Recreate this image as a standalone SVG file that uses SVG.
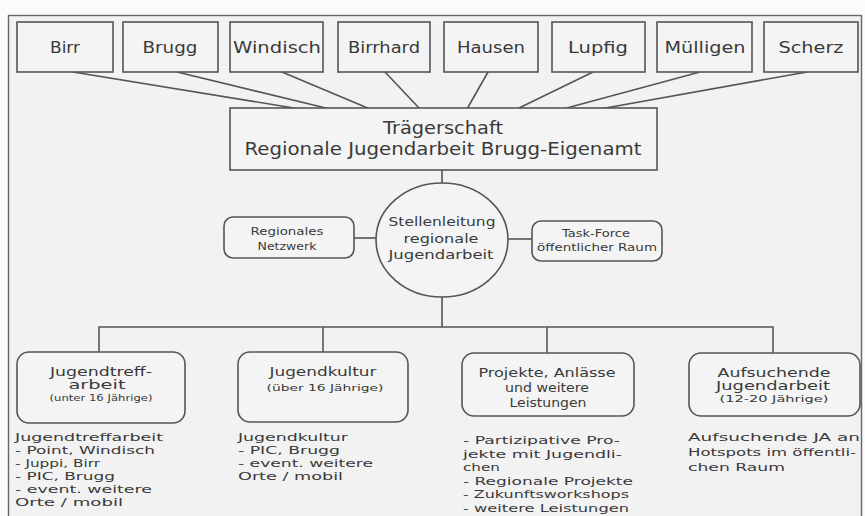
<svg xmlns="http://www.w3.org/2000/svg" width="865" height="516" viewBox="0 0 865 516">
<style>
text{font-family:"DejaVu Sans","Liberation Sans",sans-serif;fill:#3a3a3a;text-anchor:middle;}
.box{fill:#f4f4f4;stroke:#555;stroke-width:1.6;}
.ln{stroke:#555;stroke-width:1.6;fill:none;}
.top{font-size:15px;}
.t18{font-size:18px;}
.t13{font-size:13px;}
.t12{font-size:12px;}
.t10{font-size:10px;}
.t9{font-size:8.5px;}
.lst{font-size:11px;text-anchor:start;}
</style>
<rect x="0" y="0" width="865" height="516" fill="#fbfbfb"/>
<rect x="8.5" y="15.5" width="853" height="520" fill="#f2f2f2" stroke="#666" stroke-width="1.4"/>

<g id="connectors" class="ln">
<line x1="73" y1="72" x2="300" y2="109"/>
<line x1="177" y1="72" x2="330" y2="109"/>
<line x1="282" y1="72" x2="370" y2="109"/>
<line x1="385" y1="72" x2="420" y2="109"/>
<line x1="488" y1="72" x2="467" y2="109"/>
<line x1="593" y1="72" x2="517" y2="109"/>
<line x1="700" y1="72" x2="563" y2="109"/>
<line x1="807" y1="72" x2="600" y2="109"/>
<line x1="442" y1="170" x2="442" y2="183"/>
<line x1="354" y1="238" x2="376" y2="238"/>
<line x1="508" y1="239" x2="532" y2="239"/>
<line x1="442" y1="297" x2="442" y2="327"/>
<polyline points="99,352 99,327 773,327 773,353"/>
<line x1="323" y1="327" x2="323" y2="352"/>
<line x1="547" y1="327" x2="547" y2="353"/>
</g>

<g id="birr"><rect class="box" x="17" y="22" width="96" height="50"/><text class="top" x="65" y="53" textLength="30" lengthAdjust="spacingAndGlyphs">Birr</text></g>
<g id="brugg"><rect class="box" x="123" y="22" width="95" height="50"/><text class="top" x="170" y="53" textLength="55" lengthAdjust="spacingAndGlyphs">Brugg</text></g>
<g id="windisch"><rect class="box" x="230" y="22" width="93" height="50"/><text class="top" x="277" y="53" textLength="88" lengthAdjust="spacingAndGlyphs">Windisch</text></g>
<g id="birrhard"><rect class="box" x="338" y="22" width="92" height="50"/><text class="top" x="384" y="53" textLength="72" lengthAdjust="spacingAndGlyphs">Birrhard</text></g>
<g id="hausen"><rect class="box" x="444" y="22" width="94" height="50"/><text class="top" x="491" y="53" textLength="68" lengthAdjust="spacingAndGlyphs">Hausen</text></g>
<g id="lupfig"><rect class="box" x="552" y="22" width="93" height="50"/><text class="top" x="598" y="53" textLength="60" lengthAdjust="spacingAndGlyphs">Lupfig</text></g>
<g id="muelligen"><rect class="box" x="657" y="22" width="95" height="50"/><text class="top" x="705" y="53" textLength="81" lengthAdjust="spacingAndGlyphs">Mülligen</text></g>
<g id="scherz"><rect class="box" x="764" y="22" width="94" height="50"/><text class="top" x="811" y="53" textLength="65" lengthAdjust="spacingAndGlyphs">Scherz</text></g>

<g id="traegerschaft"><rect class="box" x="230" y="108" width="427" height="62"/>
<text class="t18" x="443" y="134" textLength="120" lengthAdjust="spacingAndGlyphs">Trägerschaft</text>
<text class="t18" x="443" y="155" textLength="397" lengthAdjust="spacingAndGlyphs">Regionale Jugendarbeit Brugg-Eigenamt</text></g>

<g id="stellenleitung"><ellipse class="box" cx="442" cy="240" rx="66" ry="57"/>
<text class="t13" x="442" y="226" textLength="107" lengthAdjust="spacingAndGlyphs">Stellenleitung</text>
<text class="t13" x="441" y="243" textLength="75" lengthAdjust="spacingAndGlyphs">regionale</text>
<text class="t13" x="441" y="259" textLength="105" lengthAdjust="spacingAndGlyphs">Jugendarbeit</text></g>

<g id="netzwerk"><rect class="box" x="224" y="217" width="130" height="41" rx="9"/>
<text class="t10" x="287" y="235" textLength="73" lengthAdjust="spacingAndGlyphs">Regionales</text>
<text class="t10" x="287" y="250" textLength="59" lengthAdjust="spacingAndGlyphs">Netzwerk</text></g>

<g id="taskforce"><rect class="box" x="532" y="221" width="130" height="40" rx="9"/>
<text class="t10" x="596" y="237" textLength="68" lengthAdjust="spacingAndGlyphs">Task-Force</text>
<text class="t10" x="597" y="251" textLength="120" lengthAdjust="spacingAndGlyphs">öffentlicher Raum</text></g>

<g id="jugendtreff"><rect class="box" x="17" y="352" width="168" height="71" rx="12"/>
<text class="t12" x="101" y="376" textLength="102" lengthAdjust="spacingAndGlyphs">Jugendtreff-</text>
<text class="t12" x="97" y="389" textLength="57" lengthAdjust="spacingAndGlyphs">arbeit</text>
<text class="t9" x="101" y="401" textLength="103" lengthAdjust="spacingAndGlyphs">(unter 16 Jährige)</text>
<text class="lst" x="15" y="441" textLength="148" lengthAdjust="spacingAndGlyphs">Jugendtreffarbeit</text>
<text class="lst" x="15" y="454" textLength="140" lengthAdjust="spacingAndGlyphs">- Point, Windisch</text>
<text class="lst" x="15" y="467" textLength="85" lengthAdjust="spacingAndGlyphs">- Juppi, Birr</text>
<text class="lst" x="15" y="480" textLength="100" lengthAdjust="spacingAndGlyphs">- PIC, Brugg</text>
<text class="lst" x="15" y="493" textLength="137" lengthAdjust="spacingAndGlyphs">- event. weitere</text>
<text class="lst" x="15" y="506" textLength="108" lengthAdjust="spacingAndGlyphs">Orte / mobil</text></g>

<g id="jugendkultur"><rect class="box" x="238" y="352" width="170" height="70" rx="12"/>
<text class="t12" x="323" y="376" textLength="107" lengthAdjust="spacingAndGlyphs">Jugendkultur</text>
<text class="t9" x="325" y="391" textLength="117" lengthAdjust="spacingAndGlyphs">(über 16 Jährige)</text>
<text class="lst" x="238" y="441" textLength="110" lengthAdjust="spacingAndGlyphs">Jugendkultur</text>
<text class="lst" x="238" y="454" textLength="102" lengthAdjust="spacingAndGlyphs">- PIC, Brugg</text>
<text class="lst" x="238" y="467" textLength="135" lengthAdjust="spacingAndGlyphs">- event. weitere</text>
<text class="lst" x="238" y="480" textLength="105" lengthAdjust="spacingAndGlyphs">Orte / mobil</text></g>

<g id="projekte"><rect class="box" x="462" y="353" width="172" height="63" rx="12"/>
<text class="t12" x="547" y="377" textLength="137" lengthAdjust="spacingAndGlyphs">Projekte, Anlässe</text>
<text class="t12" x="547" y="392" textLength="84" lengthAdjust="spacingAndGlyphs">und weitere</text>
<text class="t12" x="548" y="407" textLength="77" lengthAdjust="spacingAndGlyphs">Leistungen</text>
<text class="lst" x="463" y="444" textLength="157" lengthAdjust="spacingAndGlyphs">- Partizipative Pro-</text>
<text class="lst" x="463" y="457.5" textLength="159" lengthAdjust="spacingAndGlyphs">jekte mit Jugendli-</text>
<text class="lst" x="463" y="471" textLength="37" lengthAdjust="spacingAndGlyphs">chen</text>
<text class="lst" x="463" y="484.5" textLength="170" lengthAdjust="spacingAndGlyphs">- Regionale Projekte</text>
<text class="lst" x="463" y="498" textLength="166" lengthAdjust="spacingAndGlyphs">- Zukunftsworkshops</text>
<text class="lst" x="463" y="511.5" textLength="166" lengthAdjust="spacingAndGlyphs">- weitere Leistungen</text></g>

<g id="aufsuchende"><rect class="box" x="689" y="353" width="171" height="63" rx="12"/>
<text class="t12" x="774" y="377" textLength="113" lengthAdjust="spacingAndGlyphs">Aufsuchende</text>
<text class="t12" x="773" y="390" textLength="114" lengthAdjust="spacingAndGlyphs">Jugendarbeit</text>
<text class="t9" x="774" y="402" textLength="109" lengthAdjust="spacingAndGlyphs">(12-20 Jährige)</text>
<text class="lst" x="688" y="441" textLength="172" lengthAdjust="spacingAndGlyphs">Aufsuchende JA an</text>
<text class="lst" x="688" y="456" textLength="168" lengthAdjust="spacingAndGlyphs">Hotspots im öffentli-</text>
<text class="lst" x="688" y="471" textLength="97" lengthAdjust="spacingAndGlyphs">chen Raum</text></g>
</svg>
